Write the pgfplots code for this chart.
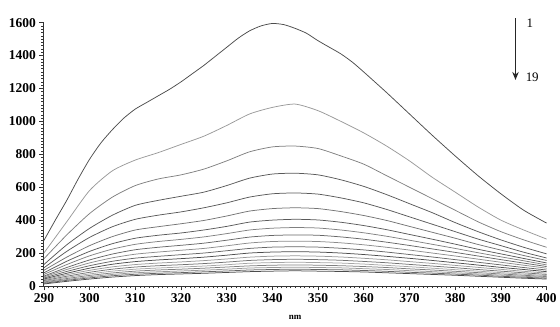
\documentclass[border=0pt]{standalone}
\usepackage{pgfplots}
\pgfplotsset{compat=1.18}
\usepackage{pgfplotstable}
\usetikzlibrary{arrows.meta}
\usepackage{fontspec}
\setmainfont{Liberation Serif}

\pgfplotstableread{
x c2 c3 c4 c5 c6 c7 c8 c9 c10 c11 c12 c13 c14 c15 c16 c17 c18 c19
290 200 165 130 110 95 80 70 60 55 48 42 37 32 28 24 20 16 12
295 390 310 250 210 175 150 130 112 100 88 77 68 59 52 45 39 34 28
300 580 440 350 295 245 210 183 158 140 123 108 95 83 73 64 56 49 42
305 700 540 430 360 300 257 224 194 171 150 132 116 102 90 79 70 62 54
310 765 610 490 405 340 290 253 220 193 169 148 130 115 102 90 80 71 63
315 810 650 520 430 360 308 270 235 206 180 158 139 123 109 97 86 77 69
320 860 675 545 450 378 322 283 247 217 190 166 146 129 115 102 91 81 73
325 910 710 570 475 398 340 298 260 228 200 175 154 136 121 108 96 86 77
330 975 760 610 505 425 362 318 278 244 214 187 164 145 129 115 102 91 82
335 1045 815 655 540 455 388 340 297 261 228 200 175 155 138 122 109 97 87
340 1085 845 680 560 470 400 351 307 270 236 206 181 160 142 126 112 100 90
345 1105 850 685 565 475 405 355 310 272 238 208 183 162 144 128 114 102 92
350 1065 835 675 558 470 401 352 308 270 236 206 181 160 142 126 112 100 90
355 1000 790 645 535 452 387 340 298 262 229 200 176 156 139 123 110 98 88
360 930 740 605 505 428 367 323 284 250 219 191 168 149 133 118 105 94 85
365 850 670 555 465 398 342 302 266 235 206 180 159 141 125 112 100 89 80
370 760 600 500 420 362 313 278 246 218 191 168 148 131 117 104 93 83 75
375 660 530 445 375 326 284 253 225 200 176 155 137 121 108 97 87 78 70
380 570 460 385 330 290 254 228 204 182 160 141 125 111 99 89 80 72 65
385 480 390 330 285 252 223 202 182 163 144 127 113 100 90 81 73 66 59
390 400 330 280 245 218 195 177 160 144 128 113 101 90 81 73 66 59 53
395 340 280 235 205 185 167 153 139 126 112 100 89 80 72 65 59 53 47
400 285 235 195 170 155 140 128 118 108 97 87 78 70 63 57 52 47 42
}\spectra

\begin{document}
\begin{tikzpicture}
\begin{axis}[
  scale only axis, width=504pt, height=264pt,
  xmin=290, xmax=400, ymin=0, ymax=1600,
  axis x line=bottom, axis y line=left,
  axis line style={-, line width=0.8pt, black!80},
  tick align=outside,
  xtick distance=10, ytick distance=200,
  minor x tick num=9, minor y tick num=9,
  major tick length=4.5pt, minor tick length=2.5pt,
  tick style={black!80, line width=0.6pt},
  ticklabel style={font=\fontsize{13.5}{15}\selectfont\bfseries},
  /pgf/number format/assume math mode=true,
  /pgf/number format/1000 sep={},
  xlabel={\textbf{nm}},
  xlabel style={font=\fontsize{9}{10}\selectfont, yshift=-5pt},
  clip=false,
  every axis plot/.append style={line width=0.75pt, mark=none, smooth, tension=0.4},
]
\addplot[color=black!70] coordinates {
(290,276) (292.5,400) (295,520) (297.5,650) (300,770) (302.5,870) (305,950)
(307.5,1020) (310,1075) (312.5,1115) (315,1155) (317.5,1195) (320,1240)
(322.5,1290) (325,1340) (327.5,1395) (330,1450) (332.5,1505) (335,1550)
(337.5,1580) (340,1595) (342.5,1588) (345,1565)
(347.5,1535) (350,1490) (352.5,1450) (355,1410) (357.5,1360) (360,1300)
(365,1175) (370,1045) (375,915) (380,790) (385,670) (390,560) (395,460) (400,382)
};
\addplot[color=black!40] table[x=x,y=c2] {\spectra};
\addplot[color=black!50] table[x=x,y=c3] {\spectra};
\addplot[color=black!65] table[x=x,y=c4] {\spectra};
\addplot[color=black!65] table[x=x,y=c5] {\spectra};
\addplot[color=black!55] table[x=x,y=c6] {\spectra};
\addplot[color=black!65] table[x=x,y=c7] {\spectra};
\addplot[color=black!50] table[x=x,y=c8] {\spectra};
\addplot[color=black!60] table[x=x,y=c9] {\spectra};
\addplot[color=black!45] table[x=x,y=c10] {\spectra};
\addplot[color=black!60] table[x=x,y=c11] {\spectra};
\addplot[color=black!70] table[x=x,y=c12] {\spectra};
\addplot[color=black!40] table[x=x,y=c13] {\spectra};
\addplot[color=black!55] table[x=x,y=c14] {\spectra};
\addplot[color=black!35] table[x=x,y=c15] {\spectra};
\addplot[color=black!50] table[x=x,y=c16] {\spectra};
\addplot[color=black!40] table[x=x,y=c17] {\spectra};
\addplot[color=black!60] table[x=x,y=c18] {\spectra};
\addplot[color=black!70] table[x=x,y=c19] {\spectra};
\draw[-{Stealth[length=8pt,width=6.5pt]}, line width=1pt, black!85]
  (axis cs:393.2,1627) -- (axis cs:393.2,1252);
\node[anchor=west, inner sep=0pt, font=\fontsize{13}{15}\selectfont] at (axis cs:395.6,1596) {1};
\node[anchor=west, inner sep=0pt, font=\fontsize{13}{15}\selectfont] at (axis cs:395.4,1271) {19};
\end{axis}
\path (current axis.south west) ++(-44pt,-40.3pt) rectangle ++(560pt,327pt);
\end{tikzpicture}
\end{document}
